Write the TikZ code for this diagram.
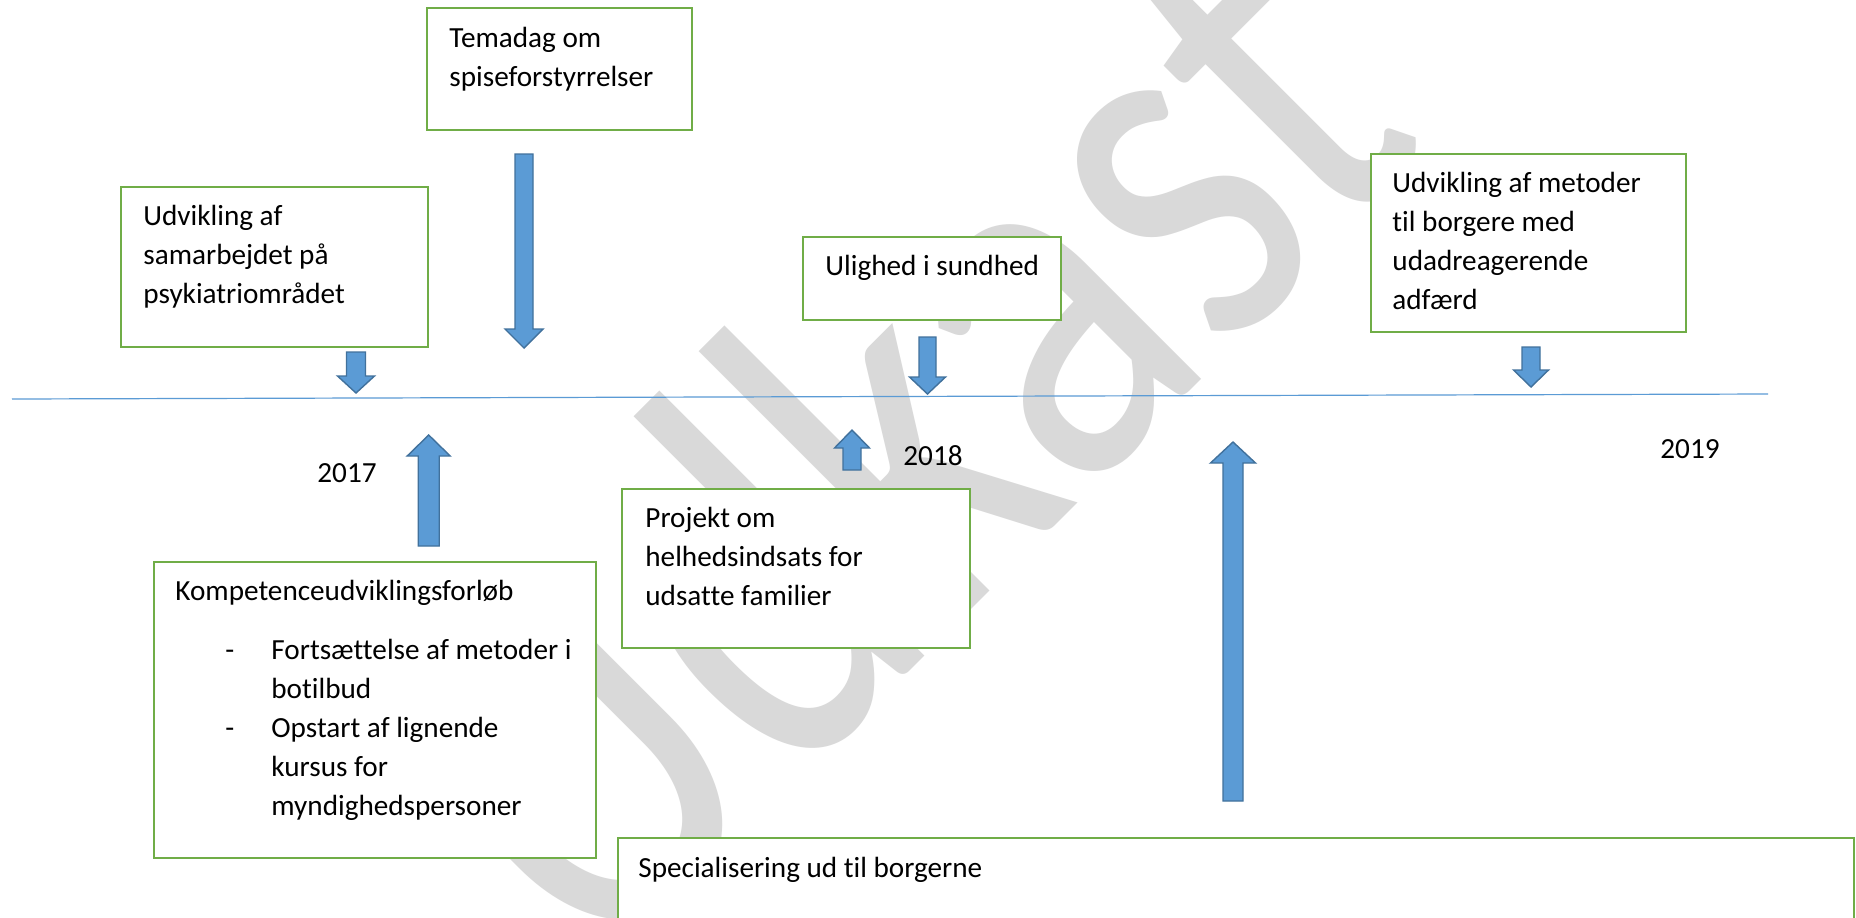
\documentclass[tikz,border=0pt]{standalone}
\usepackage{fontspec}
\setmainfont{Carlito}[Ligatures={CommonOff}]
\newfontfamily\wmfont{Carlito}
\usetikzlibrary{fit}
\definecolor{boxgreen}{HTML}{70AD47}
\definecolor{arrfill}{HTML}{5B9BD5}
\definecolor{arrline}{HTML}{41719C}
\definecolor{tlblue}{HTML}{5B9BD5}
\definecolor{wmgray}{RGB}{217,217,217}
\newcommand\vlines[1]{\vtop{\halign{##\hfil\cr#1\crcr}}}
\tikzset{
  gbox/.style={draw=boxgreen, line width=1.3pt, fill=white, inner sep=0pt},
  txt/.style={font=\fontsize{14.6}{19.5}\selectfont, inner sep=0pt, anchor=base west},
  barrow/.style={fill=arrfill, draw=arrline, line width=0.7pt},
  tline/.style={draw=tlblue, line width=0.6pt},
  wmstyle/.style={text=wmgray, font=\wmfont\fontsize{270}{300}\selectfont, inner sep=0pt}
}
\newcommand\blockarr[6]{%
  \draw[barrow] (#1-#5,#2) -- (#1+#5,#2) -- (#1+#5,#3) -- (#1+#6,#3) -- (#1,#4) -- (#1-#6,#3) -- (#1-#5,#3) -- cycle;}
\begin{document}
\begin{tikzpicture}[x=0.5pt,y=-0.5pt]
\useasboundingbox (0,0) rectangle (1856,917);
\clip (0,0) rectangle (1856,917);
\fill[white] (0,0) rectangle (1856,917);
% watermark
\node[wmstyle, rotate=45, anchor=base] (wmark) at (1015,566) {\scalebox{0.785}[1]{Udkast}};
% timeline
\coordinate (tl0) at (12,399);
\coordinate (tl1) at (1768,394);
\draw[tline] (tl0) -- (tl1);
% boxes
\node[gbox, fit={(427,8) (692,130)}] (tema) {};
\node[txt] (tematxt) at (449,47) {\vlines{Temadag om\cr spiseforstyrrelser}};
\node[gbox, fit={(121,187) (428,347)}] (samar) {};
\node[txt] (samartxt) at (143,225) {\vlines{Udvikling af\cr samarbejdet på\cr psykiatriområdet}};
\node[gbox, fit={(803,237) (1061,320)}] (ulig) {};
\node[txt] (uligtxt) at (825,275) {Ulighed i sundhed};
\node[gbox, fit={(1371,154) (1686,332)}] (metod) {};
\node[txt] (metodtxt) at (1392,192) {\vlines{Udvikling af metoder\cr til borgere med\cr udadreagerende\cr adfærd}};
\node[gbox, fit={(622,489) (970,648)}] (proj) {};
\node[txt] (projtxt) at (645,527) {\vlines{Projekt om\cr helhedsindsats for\cr udsatte familier}};
\node[gbox, fit={(154,562) (596,858)}] (komp) {};
\node[txt] (komptxt) at (175,600) {Kompetenceudviklingsforløb};
\node[txt] (dash1) at (225,659) {-};
\node[txt] (dash2) at (225,737) {-};
\node[txt] (item1) at (271,659) {\vlines{Fortsættelse af metoder i\cr botilbud}};
\node[txt] (item2) at (271,737) {\vlines{Opstart af lignende\cr kursus for\cr myndighedspersoner}};
\node[gbox, fit={(618,838) (1854,960)}] (spec) {};
\node[txt] (spectxt) at (638,877) {Specialisering ud til borgerne};
% years
\node[txt] (y2017) at (317,482) {2017};
\node[txt] (y2018) at (903,465) {2018};
\node[txt] (y2019) at (1660,458) {2019};
% arrows
\blockarr{524}{154}{329}{348}{9}{19}
\blockarr{356}{352}{376}{393}{9.5}{18.5}
\blockarr{927.5}{337}{377}{394}{8.5}{18}
\blockarr{1531}{347}{370}{387}{9}{17.5}
\blockarr{428.7}{546}{456}{435}{10.5}{21.5}
\blockarr{852}{470}{448}{430}{9}{17.5}
\blockarr{1233}{801}{463}{442}{10}{22.5}
\end{tikzpicture}
\end{document}
